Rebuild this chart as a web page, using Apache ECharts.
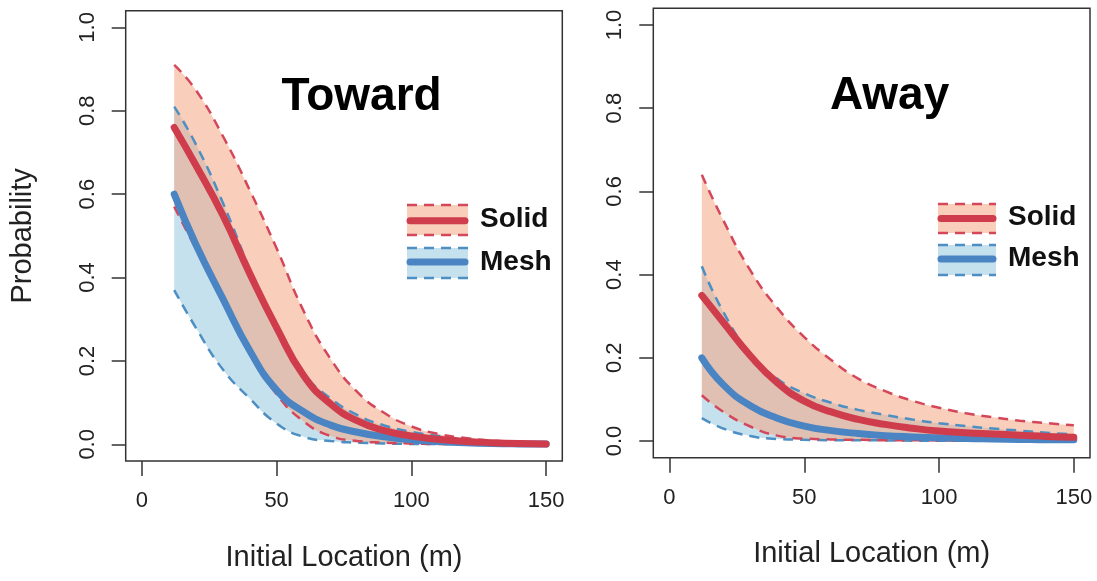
<!DOCTYPE html>
<html><head><meta charset="utf-8">
<script src="https://cdn.jsdelivr.net/npm/echarts@6/dist/echarts.min.js"></script>
<style>html,body{margin:0;padding:0;background:#fff}#c{width:1097px;height:581px}</style>
</head><body><div id="c"></div>
<script>
// ---- data ----
const distances = [12,20,30,40,50,60,70,80,90,100,110,120,130,140,150];
const xTicks = [0,50,100,150];
const yTicks = [0,0.2,0.4,0.6,0.8,1.0];
const panelTitles = ['Toward','Away'];
const legendNames = ['Solid','Mesh'];

// Toward
const towardSolidMean = [0.76,0.67,0.55,0.41,0.28,0.165,0.097,0.056,0.033,0.02,0.012,0.007,0.004,0.002,0.001];
const towardSolidUpper = [0.91,0.85,0.74,0.61,0.47,0.32,0.205,0.125,0.075,0.043,0.025,0.015,0.009,0.005,0.003];
const towardSolidLower = [0.57,0.47,0.35,0.22,0.12,0.055,0.02,0.008,0.004,0.002,0.001,0.001,0.0005,0.0003,0.0002];
const towardMeshMean = [0.60,0.48,0.35,0.225,0.13,0.078,0.046,0.029,0.018,0.011,0.007,0.004,0.002,0.001,0.0005];
const towardMeshUpper = [0.81,0.72,0.58,0.42,0.27,0.17,0.11,0.07,0.045,0.03,0.02,0.012,0.008,0.005,0.003];
const towardMeshLower = [0.37,0.28,0.18,0.11,0.05,0.018,0.008,0.004,0.002,0.001,0.001,0.0005,0.0003,0.0002,0.0001];

// Away
const awaySolidMean = [0.35,0.285,0.205,0.14,0.096,0.07,0.052,0.04,0.031,0.024,0.02,0.017,0.014,0.011,0.009];
const awaySolidUpper = [0.64,0.53,0.41,0.32,0.25,0.195,0.15,0.12,0.097,0.08,0.067,0.057,0.049,0.043,0.038];
const awaySolidLower = [0.11,0.07,0.035,0.013,0.006,0.004,0.003,0.002,0.002,0.0015,0.001,0.001,0.001,0.001,0.001];
const awayMeshMean = [0.20,0.135,0.085,0.055,0.036,0.025,0.018,0.013,0.01,0.008,0.006,0.005,0.004,0.003,0.003];
const awayMeshUpper = [0.42,0.31,0.21,0.15,0.115,0.092,0.075,0.063,0.052,0.043,0.036,0.03,0.025,0.02,0.016];
const awayMeshLower = [0.055,0.03,0.012,0.005,0.003,0.002,0.002,0.0015,0.001,0.001,0.001,0.001,0.001,0.001,0.001];

// ---- styles ----
const FONT = '"Liberation Sans", Arial, Helvetica, sans-serif';
const RED = '#cf3d4d', BLUE = '#4a84c3';
const RED_DASH = '#d4475a', BLUE_DASH = '#4d8fc2';
const PEACH = 'rgba(244,165,130,0.55)', SKY = 'rgba(146,197,222,0.52)';
const SMOOTH = 0.5;

// rows are [value, distance] so that the stacked dimension is the probability
function rows(arr){ return distances.map((x,i)=>[arr[i], x]); }
function diffRows(up,lo){ return distances.map((x,i)=>[up[i]-lo[i], x]); }
const ENC = {x:1, y:0};

function bandSeries(g, lo, up, color, stack){
  return [
    {type:'line', xAxisIndex:g, yAxisIndex:g, data:rows(lo), encode:ENC, stack:stack, smooth:SMOOTH,
     symbol:'none', lineStyle:{width:0,opacity:0}, silent:true, z:1},
    {type:'line', xAxisIndex:g, yAxisIndex:g, data:diffRows(up,lo), encode:ENC, stack:stack, smooth:SMOOTH,
     symbol:'none', lineStyle:{width:0,opacity:0}, areaStyle:{color:color, opacity:1}, silent:true, z:1}
  ];
}
function lineSeries(g, arr, color, width, dashed, z){
  return {type:'line', xAxisIndex:g, yAxisIndex:g, data:rows(arr), encode:ENC, smooth:SMOOTH,
    symbol:'none', silent:true, z:z,
    lineStyle:{color:color, width:width, type: dashed ? [10,7] : 'solid', cap: dashed ? 'butt' : 'round'}};
}
function panel(g, sMean, sUp, sLo, mMean, mUp, mLo){
  return [].concat(
    bandSeries(g, mLo, mUp, SKY, 'mesh'+g),
    bandSeries(g, sLo, sUp, PEACH, 'solid'+g),
    [lineSeries(g, mUp, BLUE_DASH, 2.5, true, 3),
     lineSeries(g, mLo, BLUE_DASH, 2.5, true, 3),
     lineSeries(g, sUp, RED_DASH, 2.5, true, 3),
     lineSeries(g, sLo, RED_DASH, 2.5, true, 3),
     lineSeries(g, mMean, BLUE, 7, false, 4),
     lineSeries(g, sMean, RED, 7, false, 5)]
  );
}

const grids = [
  {left:125.7, top:10.7, width:436.6, height:450.3},
  {left:653.3, top:8.3, width:436.7, height:449.4}
];

function xAxis(g){
  return {type:'value', gridIndex:g, min:-6, max:156,
    name:'Initial Location (m)', nameLocation:'middle', nameGap:82,
    nameTextStyle:{fontFamily:FONT, fontSize:29, color:'#222'},
    axisLine:{show:false, onZero:false}, splitLine:{show:false},
    axisTick:{show:true, inside:false, length:15, customValues:xTicks, lineStyle:{color:'#333', width:1.5}},
    axisLabel:{customValues:xTicks, margin:29, fontFamily:FONT, fontSize:22, color:'#222'}};
}
function yAxis(g){
  return {type:'value', gridIndex:g, min:-0.04, max:1.04,
    name: g===0 ? 'Probability' : '', nameLocation:'middle', nameGap:88,
    nameTextStyle:{fontFamily:FONT, fontSize:29, color:'#222'},
    axisLine:{show:false, onZero:false}, splitLine:{show:false},
    axisTick:{show:true, inside:false, length:14, customValues:yTicks, lineStyle:{color:'#333', width:1.5}},
    axisLabel:{customValues:yTicks, rotate:90, margin:27, fontFamily:FONT, fontSize:22, color:'#222',
      formatter:v=>Number(v).toFixed(1)}};
}

function legendGraphics(x0, x1, rws, textX){
  const out = [];
  const fills = [PEACH, SKY], dashes = [RED_DASH, BLUE_DASH], mains = [RED, BLUE];
  rws.forEach((r,i)=>{
    out.push({type:'rect', shape:{x:x0, y:r.top, width:x1-x0, height:r.bottom-r.top}, style:{fill:fills[i]}, silent:true, z:10});
    out.push({type:'line', shape:{x1:x0, y1:r.top, x2:x1, y2:r.top}, style:{stroke:dashes[i], lineWidth:2.5, lineDash:[10,7]}, silent:true, z:11});
    out.push({type:'line', shape:{x1:x0, y1:r.bottom, x2:x1, y2:r.bottom}, style:{stroke:dashes[i], lineWidth:2.5, lineDash:[10,7]}, silent:true, z:11});
    out.push({type:'line', shape:{x1:x0+3, y1:r.mid, x2:x1-3, y2:r.mid}, style:{stroke:mains[i], lineWidth:7, lineCap:'round'}, silent:true, z:12});
    out.push({type:'text', x:textX, y:r.textY, style:{text:legendNames[i], fontFamily:FONT, fontWeight:'bold', fontSize:28, fill:'#111', textAlign:'left', textVerticalAlign:'middle'}, silent:true, z:12});
  });
  return out;
}

const graphics = [].concat(
  [{type:'text', x:361.6, y:97, style:{text:panelTitles[0], fontFamily:FONT, fontWeight:'bold', fontSize:46, fill:'#000', textAlign:'center', textVerticalAlign:'middle'}, silent:true, z:12},
   {type:'text', x:889.6, y:96, style:{text:panelTitles[1], fontFamily:FONT, fontWeight:'bold', fontSize:46, fill:'#000', textAlign:'center', textVerticalAlign:'middle'}, silent:true, z:12}],
  legendGraphics(407, 468, [{top:205,mid:220.7,bottom:235,textY:219},{top:248,mid:262,bottom:278,textY:262}], 480),
  legendGraphics(938, 996, [{top:204,mid:218.5,bottom:233,textY:217},{top:245,mid:259,bottom:275,textY:258}], 1008)
);

const chart = echarts.init(document.getElementById('c'), null, {renderer:'canvas'});
chart.setOption({
  animation:false,
  backgroundColor:'#fff',
  grid: grids.map(g=>Object.assign({show:true, borderColor:'#333', borderWidth:1.5, backgroundColor:'transparent', containLabel:false}, g)),
  xAxis:[xAxis(0), xAxis(1)],
  yAxis:[yAxis(0), yAxis(1)],
  series: [].concat(
    panel(0, towardSolidMean, towardSolidUpper, towardSolidLower, towardMeshMean, towardMeshUpper, towardMeshLower),
    panel(1, awaySolidMean, awaySolidUpper, awaySolidLower, awayMeshMean, awayMeshUpper, awayMeshLower)
  ),
  graphic: graphics
});
</script>
</body></html>
